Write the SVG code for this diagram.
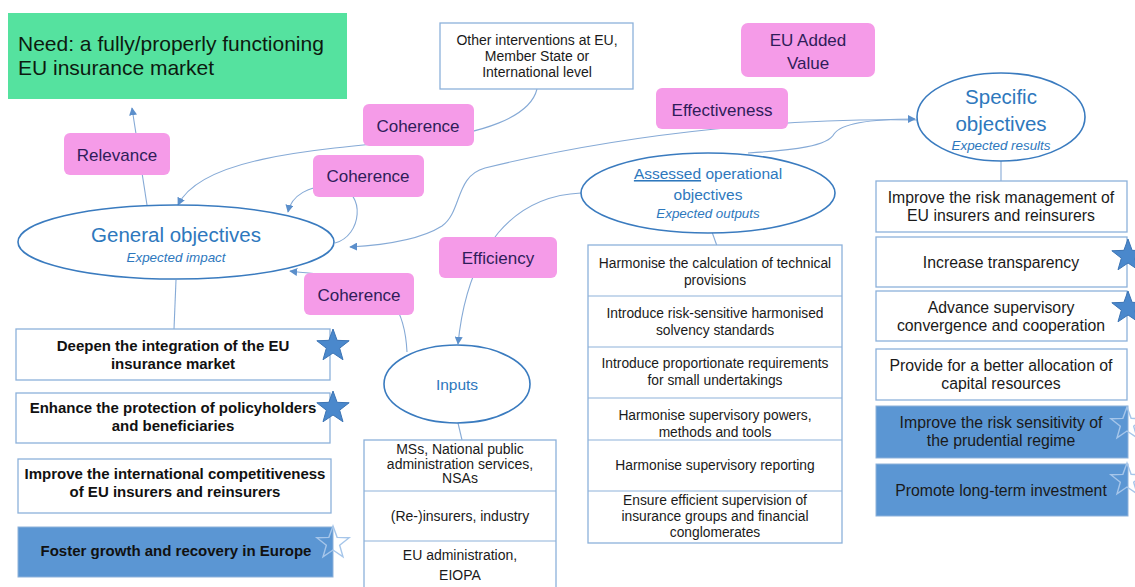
<svg xmlns="http://www.w3.org/2000/svg" xmlns:xlink="http://www.w3.org/1999/xlink" width="1135" height="587" viewBox="0 0 1135 587">
<style>
  text { font-family: "Liberation Sans", Arial, sans-serif; }
  .pink { fill: #F59BE8; }
  .pinkt { fill: #2F1D5A; font-size: 17px; text-anchor: middle; }
  .box { fill: #ffffff; stroke: #8DB1DA; stroke-width: 1.3; }
  .bbox { fill: #5B96D3; stroke: #8DB1DA; stroke-width: 1; }
  .t { fill: #1a1a1a; font-size: 13.8px; text-anchor: middle; }
  .tl { fill: #1a1a1a; font-size: 15.8px; text-anchor: middle; }
  .ti { fill: #1a1a1a; font-size: 14px; text-anchor: middle; }
  .tb { fill: #111; font-size: 15px; font-weight: bold; text-anchor: middle; }
  .ell { fill: #ffffff; stroke: #3A7BBF; stroke-width: 1.6; }
  .et { fill: #2E78BD; text-anchor: middle; }
  .ei { fill: #2E78BD; font-style: italic; font-size: 13.4px; text-anchor: middle; }
  .con { fill: none; stroke: #86AAD6; stroke-width: 1.1; }
  .sf { fill: #4A88CC; stroke: #3C74B4; stroke-width: 1; }
  .so { fill: none; stroke: #A6C6EA; stroke-width: 1.4; }
</style>
<defs>
  <marker id="arr" viewBox="0 0 10 10" refX="9" refY="5" markerWidth="8" markerHeight="8" markerUnits="userSpaceOnUse" orient="auto">
    <path d="M0,0 L10,5 L0,10 z" fill="#5B8FCB"/>
  </marker>
  <polygon id="star" points="0,-17 4.11,-5.66 16.17,-5.25 6.66,2.16 9.99,13.75 0,7 -9.99,13.75 -6.66,2.16 -16.17,-5.25 -4.11,-5.66"/>
</defs>

<g id="connectors">
  <path class="con" d="M147,205 L132,108" marker-end="url(#arr)"/>
  <path class="con" d="M537,89 C530,118 480,134 420,140 C300,150 200,160 178,205" marker-end="url(#arr)"/>
  <path class="con" d="M335,243 C362,236 366,192 338,187 C308,183 291,197 288,212" marker-end="url(#arr)"/>
  <path class="con" d="M917,120 C800,118 640,130 485,168 C455,176 462,212 442,226 C420,240 385,245 350,247" marker-end="url(#arr)"/>
  <path class="con" d="M748,153 C795,150 828,146 834,134 C842,122 880,119 915,119" marker-end="url(#arr)"/>
  <path class="con" d="M581,193 C515,196 468,245 458,344" marker-end="url(#arr)"/>
  <path class="con" d="M407,352 C405,312 392,285 345,277 C320,274 305,273 290,271" marker-end="url(#arr)"/>
  <path class="con" d="M176,280 L174,329"/>
  <path class="con" d="M1001,161 L1001,181"/>
  <path class="con" d="M712,232 L717,246"/>
  <path class="con" d="M458,423 L462,440"/>
</g>

<g id="need">
  <rect x="8" y="13" width="339" height="86" fill="#55E29F"/>
  <text x="18" y="51" font-size="21" fill="#0d1a10">Need: a fully/properly functioning</text>
  <text x="18" y="75" font-size="21" fill="#0d1a10">EU insurance market</text>
</g>

<g id="relevance">
  <rect class="pink" x="64" y="133" width="106" height="42" rx="6"/>
  <text class="pinkt" x="117" y="161">Relevance</text>
</g>

<g id="other-interventions">
  <rect class="box" x="440" y="23" width="193" height="66"/>
  <text class="ti" x="537" y="45">Other interventions at EU,</text>
  <text class="ti" x="537" y="61">Member State or</text>
  <text class="ti" x="537" y="77">International level</text>
</g>

<g id="eu-added-value">
  <rect class="pink" x="741" y="23" width="134" height="54" rx="7"/>
  <text class="pinkt" x="808" y="46">EU Added</text>
  <text class="pinkt" x="808" y="69">Value</text>
</g>

<g id="coherence-1">
  <rect class="pink" x="363" y="104" width="111" height="42" rx="6"/>
  <text class="pinkt" x="418" y="132">Coherence</text>
</g>

<g id="effectiveness">
  <rect class="pink" x="656" y="88" width="132" height="41" rx="6"/>
  <text class="pinkt" x="722" y="116">Effectiveness</text>
</g>

<g id="coherence-2">
  <rect class="pink" x="313" y="155" width="111" height="42" rx="6"/>
  <text class="pinkt" x="368" y="182">Coherence</text>
</g>

<g id="coherence-3">
  <rect class="pink" x="304" y="273" width="110" height="42" rx="6"/>
  <text class="pinkt" x="359" y="301">Coherence</text>
</g>

<g id="efficiency">
  <rect class="pink" x="439" y="237" width="118" height="41" rx="6"/>
  <text class="pinkt" x="498" y="264">Efficiency</text>
</g>

<g id="specific-objectives">
  <ellipse class="ell" cx="1001" cy="117" rx="84" ry="44"/>
  <text class="et" x="1001" y="104" font-size="20.5">Specific</text>
  <text class="et" x="1001" y="131" font-size="20.5">objectives</text>
  <text class="ei" x="1001" y="150">Expected results</text>
</g>

<g id="general-objectives">
  <ellipse class="ell" cx="176" cy="242" rx="158" ry="37"/>
  <text class="et" x="176" y="242" font-size="20.5">General objectives</text>
  <text class="ei" x="176" y="262">Expected impact</text>
</g>

<g id="operational-objectives">
  <ellipse class="ell" cx="708" cy="193" rx="127" ry="40"/>
  <text class="et" x="708" y="179" font-size="15.5"><tspan text-decoration="underline">Assessed</tspan> operational</text>
  <text class="et" x="708" y="200" font-size="15.5">objectives</text>
  <text class="ei" x="708" y="218">Expected outputs</text>
</g>

<g id="inputs">
  <ellipse class="ell" cx="457" cy="384" rx="73" ry="39"/>
  <text class="et" x="457" y="390" font-size="15.5">Inputs</text>
</g>

<g id="general-list">
  <rect class="box" x="16" y="329" width="314" height="51"/>
  <text class="tb" x="173" y="351">Deepen the integration of the EU</text>
  <text class="tb" x="173" y="369">insurance market</text>
  <use xlink:href="#star" x="333" y="346" class="sf"/>

  <rect class="box" x="16" y="393" width="314" height="50"/>
  <text class="tb" x="173" y="413">Enhance the protection of policyholders</text>
  <text class="tb" x="173" y="431">and beneficiaries</text>
  <use xlink:href="#star" x="333" y="408" class="sf"/>

  <rect class="box" x="18" y="459" width="313" height="54"/>
  <text class="tb" x="175" y="479" font-size="14">Improve the international competitiveness</text>
  <text class="tb" x="175" y="497" font-size="14">of EU insurers and reinsurers</text>

  <rect class="bbox" x="18" y="527" width="315" height="50"/>
  <text class="tb" x="176" y="556">Foster growth and recovery in Europe</text>
  <use xlink:href="#star" x="333" y="543" class="so"/>
</g>

<g id="inputs-list">
  <rect class="box" x="364" y="440" width="192" height="150"/>
  <line x1="364" y1="491" x2="556" y2="491" stroke="#8DB1DA" stroke-width="1.2"/>
  <line x1="364" y1="541" x2="556" y2="541" stroke="#8DB1DA" stroke-width="1.2"/>
  <text class="ti" x="460" y="454" font-size="12.5">MSs, National public</text>
  <text class="ti" x="460" y="468.5" font-size="12.5">administration services,</text>
  <text class="ti" x="460" y="483" font-size="12.5">NSAs</text>
  <text class="ti" x="460" y="521">(Re-)insurers, industry</text>
  <text class="ti" x="460" y="560">EU administration,</text>
  <text class="ti" x="460" y="580">EIOPA</text>
</g>

<g id="operational-list">
  <rect class="box" x="588" y="245" width="254" height="298"/>
  <line x1="588" y1="296" x2="842" y2="296" stroke="#8DB1DA" stroke-width="1.2"/>
  <line x1="588" y1="347" x2="842" y2="347" stroke="#8DB1DA" stroke-width="1.2"/>
  <line x1="588" y1="398" x2="842" y2="398" stroke="#8DB1DA" stroke-width="1.2"/>
  <line x1="588" y1="440" x2="842" y2="440" stroke="#8DB1DA" stroke-width="1.2"/>
  <line x1="588" y1="491" x2="842" y2="491" stroke="#8DB1DA" stroke-width="1.2"/>
  <text class="t" x="715" y="268">Harmonise the calculation of technical</text>
  <text class="t" x="715" y="285">provisions</text>
  <text class="t" x="715" y="318">Introduce risk-sensitive harmonised</text>
  <text class="t" x="715" y="335">solvency standards</text>
  <text class="t" x="715" y="368">Introduce proportionate requirements</text>
  <text class="t" x="715" y="385">for small undertakings</text>
  <text class="t" x="715" y="420">Harmonise supervisory powers,</text>
  <text class="t" x="715" y="437">methods and tools</text>
  <text class="t" x="715" y="470">Harmonise supervisory reporting</text>
  <text class="t" x="715" y="505">Ensure efficient supervision of</text>
  <text class="t" x="715" y="521">insurance groups and financial</text>
  <text class="t" x="715" y="537">conglomerates</text>
</g>

<g id="specific-list">
  <rect class="box" x="876" y="181" width="251" height="51"/>
  <text class="tl" x="1001" y="203">Improve the risk management of</text>
  <text class="tl" x="1001" y="221">EU insurers and reinsurers</text>

  <rect class="box" x="876" y="237" width="251" height="50"/>
  <text class="tl" x="1001" y="268">Increase transparency</text>
  <use xlink:href="#star" x="1128" y="256" class="sf"/>

  <rect class="box" x="876" y="291" width="251" height="50"/>
  <text class="tl" x="1001" y="313">Advance supervisory</text>
  <text class="tl" x="1001" y="331">convergence and cooperation</text>
  <use xlink:href="#star" x="1128" y="308" class="sf"/>

  <rect class="box" x="876" y="349" width="251" height="51"/>
  <text class="tl" x="1001" y="371">Provide for a better allocation of</text>
  <text class="tl" x="1001" y="389">capital resources</text>

  <rect class="bbox" x="876" y="406" width="252" height="52"/>
  <text class="tl" x="1001" y="428">Improve the risk sensitivity of</text>
  <text class="tl" x="1001" y="446">the prudential regime</text>
  <use xlink:href="#star" x="1127" y="424" class="so"/>

  <rect class="bbox" x="876" y="464" width="252" height="52"/>
  <text class="tl" x="1001" y="496">Promote long-term investment</text>
  <use xlink:href="#star" x="1127" y="480" class="so"/>
</g>
</svg>
